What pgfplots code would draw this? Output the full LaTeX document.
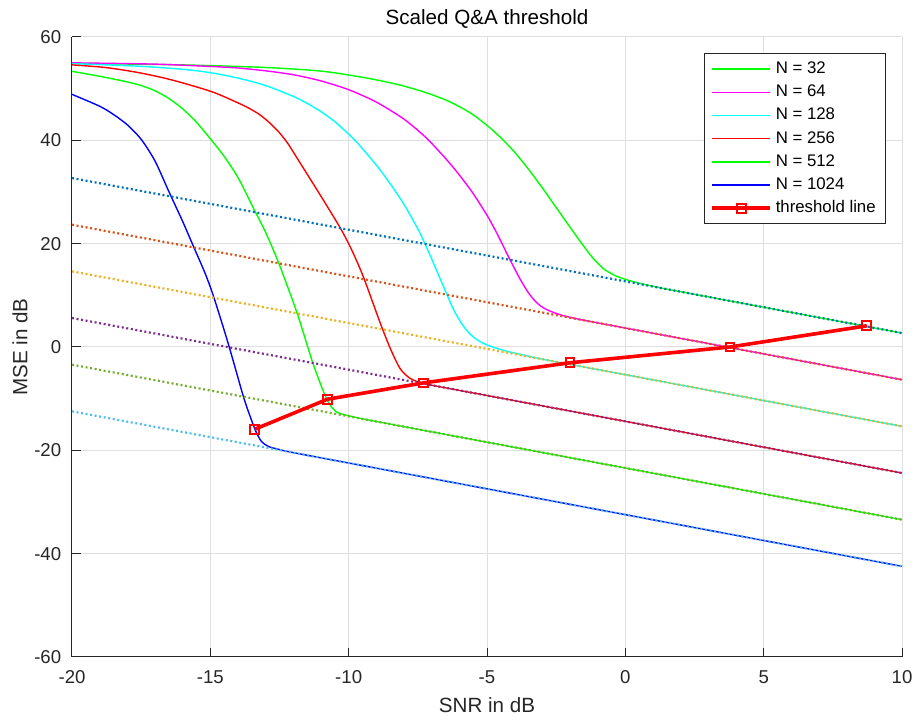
\documentclass[border=0pt]{standalone}
\usepackage{fontspec}
\setmainfont{Liberation Sans}
\usepackage{pgfplots}
\pgfplotsset{compat=1.18}

\definecolor{axgray}{RGB}{38,38,38}
\definecolor{gridgray}{RGB}{223,223,223}
\definecolor{crbA}{RGB}{0,114,189}
\definecolor{crbB}{RGB}{217,83,25}
\definecolor{crbC}{RGB}{237,177,32}
\definecolor{crbD}{RGB}{126,47,142}
\definecolor{crbE}{RGB}{119,172,48}
\definecolor{crbF}{RGB}{77,190,238}
\definecolor{pgreen}{RGB}{0,255,0}
\definecolor{pmagenta}{RGB}{255,0,255}
\definecolor{pcyan}{RGB}{0,255,255}
\definecolor{pred}{RGB}{255,0,0}
\definecolor{pblue}{RGB}{0,0,255}

\pgfplotsset{
  mse/.style={line width=0.7pt, smooth, tension=0.45},
  crb/.style={forget plot, line width=1.1pt, dash pattern=on 1pt off 1.3pt},
}

\begin{document}
\begin{tikzpicture}
\begin{axis}[
  scale only axis, width=415pt, height=310pt,
  xmin=-20, xmax=10, ymin=-60, ymax=60,
  clip mode=individual,
  xtick={-20,-15,...,10}, ytick={-60,-40,...,60},
  axis x line=bottom, axis y line=left,
  axis line style={axgray, line width=0.5pt, -},
  grid=major, major grid style={gridgray, line width=0.5pt},
  tick align=inside, major tick length=4.5pt,
  every tick/.style={axgray, line width=0.5pt},
  /pgf/number format/assume math mode=true,
  tick label style={font=\fontsize{9.3}{11}\selectfont, text=axgray},
  xticklabel style={yshift=-3.3pt},
  yticklabel style={xshift=-1.9pt},
  xlabel={SNR in dB}, ylabel={MSE in dB},
  label style={font=\fontsize{10.3}{12}\selectfont, text=axgray},
  xlabel style={at={(axis description cs:0.5,-0.0774)}, anchor=center},
  ylabel style={at={(axis description cs:-0.0627,0.5)}, anchor=center},
  legend image code/.code={\draw[mark repeat=2,mark phase=2,#1] plot coordinates {(0pt,0pt) (14.5pt,0pt) (29pt,0pt)};},
  legend cell align=left,
  legend style={at={(axis description cs:1,1)}, anchor=north east, xshift=-8pt, yshift=-8pt,
    draw=axgray, line width=0.5pt, fill=white, inner xsep=3pt, inner ysep=2pt,
    font=\fontsize{8.4}{10}\selectfont,
    nodes={inner sep=1.9pt, text height=6.1pt, text depth=1.7pt}},
]
\coordinate (ll) at (rel axis cs:0,0);
\coordinate (ur) at (rel axis cs:1,1);
\node[font=\fontsize{10.3}{12}\selectfont, anchor=center] at (axis description cs:0.5,1.029) {Scaled Q\&A threshold};

% MSE curves
\addplot[pgreen, mse] coordinates {
 (-20,54.9) (-16,54.6) (-13,54.1) (-11,53.4) (-9.5,52.2) (-8.3,50.9) (-7.3,49.4)
 (-6.4,47.6) (-5.6,45.3) (-5.0,42.9) (-4.5,40.5) (-4.0,37.7) (-3.5,34.4)
 (-3.0,30.8) (-2.5,27.0) (-2.0,23.2) (-1.6,20.2) (-1.2,17.4) (-0.8,15.2)
 (-0.4,13.9) (0,13.1) (0.5,12.35) (1.0,11.75) (1.5,11.2) (2.5,10.2) (4,8.7)
 (6,6.7) (8,4.7) (10,2.7)};
\addlegendentry{N = 32}
\addplot[pmagenta, mse] coordinates {
 (-20,55.0) (-17,54.75) (-15,54.3) (-14,54.0) (-13,53.45) (-12,52.7) (-11,51.5)
 (-10,49.8) (-9,47.4) (-8,44.1) (-7.2,40.5) (-6.5,36.5) (-6,33.3) (-5.5,29.7)
 (-5,25.5) (-4.75,23.1) (-4.53,20.8) (-4.17,16.9) (-3.81,13.2) (-3.6,11.3)
 (-3.45,10.1) (-3.27,8.95) (-3.09,8.05) (-2.9,7.4) (-2.72,6.95) (-2.5,6.5)
 (-2.3,6.15) (-2,5.75) (-1.5,5.17) (-1,4.67) (0,3.67) (2,1.67) (4,-0.33)
 (6,-2.33) (8,-4.33) (10,-6.33)};
\addlegendentry{N = 64}
\addplot[pcyan, mse] coordinates {
 (-20,54.85) (-17.6,54.35) (-16,53.75) (-15,53.1) (-14,52.05) (-13,50.6)
 (-12,48.5) (-11.5,47.15) (-11,45.55) (-10.5,43.6) (-9.77,40.0) (-9,35.2)
 (-8.5,31.6) (-8,27.6) (-7.5,22.85) (-7.3,20.65) (-7,17.05) (-6.5,10.8)
 (-6.2,7.15) (-6.0,5.25) (-5.8,3.65) (-5.6,2.45) (-5.4,1.55) (-5.2,0.9)
 (-5.0,0.4) (-4.7,-0.18) (-4.3,-0.8) (-3.8,-1.4) (-3,-2.36) (-1,-4.36)
 (1,-6.36) (4,-9.36) (7,-12.36) (10,-15.36)};
\addlegendentry{N = 128}
\addplot[pred, mse] coordinates {
 (-20,54.6) (-18.8,54.1) (-17.59,53.1) (-16.4,51.7) (-14.94,49.4) (-13.98,47.2)
 (-13.6,46.2) (-13.25,45.1) (-12.9,43.6) (-12.54,41.7) (-12.2,39.4) (-11.8,36.0)
 (-11.4,32.6) (-10.9,28.3) (-10.31,23.1) (-9.9,18.9) (-9.47,13.6) (-8.87,4.8)
 (-8.51,-0.1) (-8.15,-4.1) (-7.8,-6.0) (-7.4,-6.9) (-6.8,-7.6) (-5,-9.39)
 (-2,-12.39) (1,-15.39) (4,-18.39) (7,-21.39) (10,-24.39)};
\addlegendentry{N = 256}
\addplot[pgreen, mse] coordinates {
 (-20,53.35) (-19,52.4) (-18,51.3) (-17.5,50.6) (-17,49.6) (-16.5,48.1)
 (-16,46.1) (-15.5,43.5) (-15,40.3) (-14.5,36.9) (-13.98,32.6) (-13.39,26.3)
 (-13.02,22.4) (-12.54,16.4) (-11.86,6.5) (-11.32,-2.7) (-10.95,-8.1)
 (-10.7,-11.0) (-10.43,-12.6) (-10.0,-13.3) (-9.4,-14.0) (-8,-15.42) (-5,-18.42)
 (-2,-21.42) (1,-24.42) (4,-27.42) (7,-30.42) (10,-33.42)};
\addlegendentry{N = 512}
\addplot[pblue, mse] coordinates {
 (-20,48.9) (-19,46.6) (-18.5,45.0) (-18,43.0) (-17.5,40.2) (-17,36.0)
 (-16.5,30.1) (-16,24.3) (-15.62,19.6) (-15.2,14.4) (-14.89,9.9) (-14.35,0.6)
 (-13.81,-9.5) (-13.55,-13.6) (-13.35,-16.4) (-13.15,-18.3) (-12.9,-19.25)
 (-12.5,-19.85) (-12,-20.45) (-9,-23.45) (-6,-26.45) (-3,-29.45) (0,-32.45)
 (3,-35.45) (6,-38.45) (10,-42.45)};
\addlegendentry{N = 1024}

% Cramer-Rao bounds, slope -1 dB/dB
\addplot[crb, crbA] coordinates {(-20,32.7) (10,2.7)};
\addplot[crb, crbB] coordinates {(-20,23.67) (10,-6.33)};
\addplot[crb, crbC] coordinates {(-20,14.64) (10,-15.36)};
\addplot[crb, crbD] coordinates {(-20,5.61) (10,-24.39)};
\addplot[crb, crbE] coordinates {(-20,-3.42) (10,-33.42)};
\addplot[crb, crbF] coordinates {(-20,-12.45) (10,-42.45)};

% threshold points
\addplot[pred, line width=1.8pt, mark=square, mark size=2.2pt,
  mark options={solid, line width=1pt}] coordinates {
 (-13.39,-15.9) (-10.76,-10.1) (-7.3,-6.95) (-2.0,-3.05) (3.78,0.0) (8.73,4.1)};
\addlegendentry{threshold line}
\end{axis}
\pgfresetboundingbox
\path[use as bounding box] ([xshift=-36pt,yshift=-32.5pt]ll) rectangle ([xshift=6.5pt,yshift=18.5pt]ur);
\end{tikzpicture}
\end{document}
